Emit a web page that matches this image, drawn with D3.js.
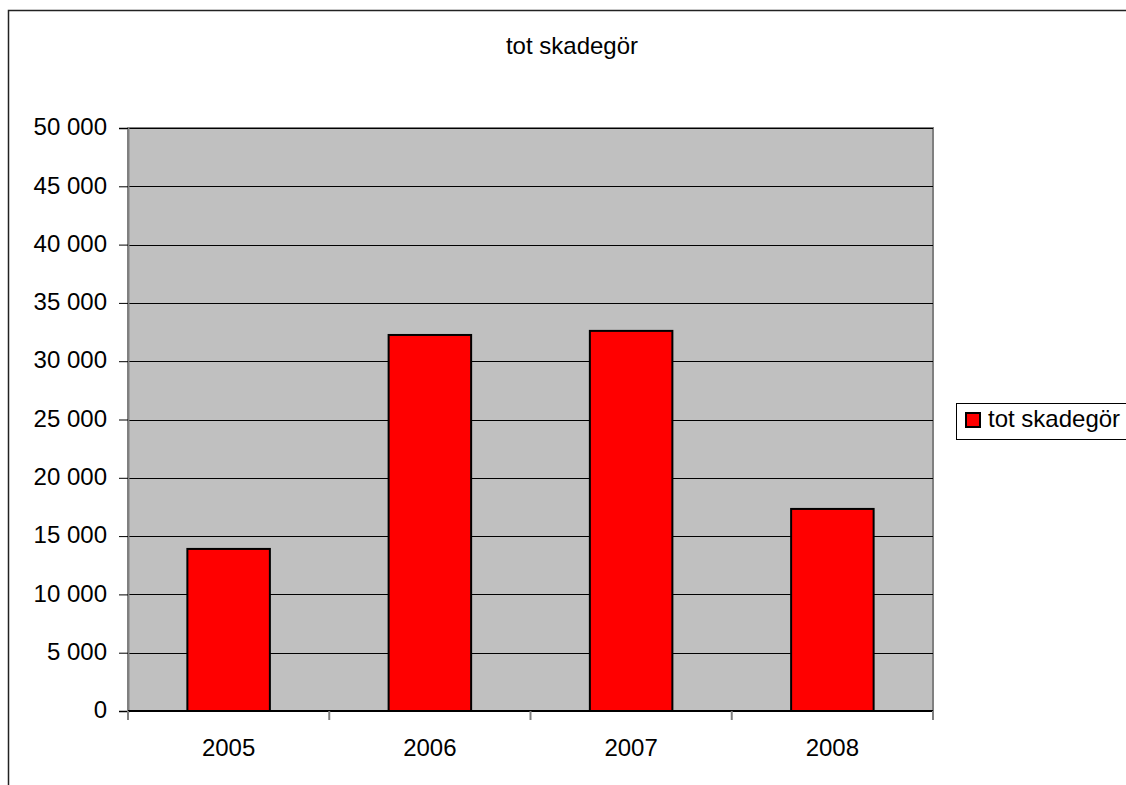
<!DOCTYPE html>
<html><head><meta charset="utf-8">
<script src="https://cdn.jsdelivr.net/npm/d3@7"></script>
<style>
html,body{margin:0;padding:0;background:#fff;}
text{font-family:"Liberation Sans",Arial,sans-serif;fill:#000;}
</style></head>
<body>
<svg id="chart" width="1126" height="785"></svg>
<script>
const categories = ["2005", "2006", "2007", "2008"];
const seriesName = "tot skadegör";
const values = [13900, 32250, 32600, 17330];
const yTicks = [0, 5000, 10000, 15000, 20000, 25000, 30000, 35000, 40000, 45000, 50000];
const chartTitle = "tot skadegör";

const svg = d3.select("#chart");
const W = 1126, H = 785;
const plot = {left: 128, right: 933, top: 128, bottom: 711};
const fontSize = 24;

const locale = d3.formatLocale({decimal: ",", thousands: " ", grouping: [3], currency: ["", ""]});
const fmt = locale.format(",d");

// outer chart border
svg.append("rect").attr("x", 8.5).attr("y", 10.5).attr("width", W + 20).attr("height", H + 20)
  .attr("fill", "#fff").attr("stroke", "#222").attr("stroke-width", 1.5);

const x = d3.scaleBand().domain(categories).range([plot.left, plot.right])
  .paddingInner(0.59).paddingOuter(0.295);
const y = d3.scaleLinear().domain([0, 50000]).range([plot.bottom, plot.top]);

// plot background
svg.append("rect").attr("x", plot.left).attr("y", plot.top)
  .attr("width", plot.right - plot.left).attr("height", plot.bottom - plot.top)
  .attr("fill", "#c0c0c0").attr("stroke", "#808080").attr("stroke-width", 2);

// gridlines
svg.append("g").selectAll("line").data(yTicks.filter(d => d > 0)).join("line")
  .attr("x1", plot.left).attr("x2", plot.right)
  .attr("y1", d => Math.round(y(d)) + 0.5).attr("y2", d => Math.round(y(d)) + 0.5)
  .attr("stroke", "#000").attr("stroke-width", 1);

// bars
svg.append("g").selectAll("rect").data(values).join("rect")
  .attr("x", (d, i) => x(categories[i]))
  .attr("y", d => y(d))
  .attr("width", x.bandwidth())
  .attr("height", d => y(0) - y(d))
  .attr("fill", "#ff0000").attr("stroke", "#000").attr("stroke-width", 2);

// y axis
const yAxis = d3.axisLeft(y).tickValues(yTicks).tickFormat(fmt).tickSize(9).tickPadding(12);
const gy = svg.append("g").attr("transform", `translate(${plot.left},0)`).call(yAxis);
gy.select(".domain").attr("stroke", "#808080").attr("stroke-width", 2);
gy.selectAll(".tick line").attr("stroke", "#000");
gy.selectAll(".tick text").attr("font-size", fontSize).attr("font-family", "Liberation Sans, Arial, sans-serif")
  .attr("fill", "#000").attr("dy", "0.28em");

// x axis (ticks at band boundaries)
const boundaries = categories.map(c => x(c) - x.step() * x.paddingInner() / 2).concat([plot.right]);
const gx = svg.append("g");
gx.append("line").attr("x1", plot.left).attr("x2", plot.right)
  .attr("y1", plot.bottom).attr("y2", plot.bottom).attr("stroke", "#000").attr("stroke-width", 2);
gx.selectAll("line.tk").data(boundaries).join("line").attr("class", "tk")
  .attr("x1", d => d).attr("x2", d => d).attr("y1", plot.bottom).attr("y2", plot.bottom + 9)
  .attr("stroke", "#808080").attr("stroke-width", 2);
gx.selectAll("text").data(categories).join("text")
  .attr("x", d => x(d) + x.bandwidth() / 2).attr("y", 756)
  .attr("text-anchor", "middle").attr("font-size", fontSize).text(d => d);

// title
svg.append("text").attr("x", 572).attr("y", 54).attr("text-anchor", "middle")
  .attr("font-size", fontSize).text(chartTitle);

// legend
const lg = svg.append("g");
lg.append("rect").attr("x", 956.5).attr("y", 403.5).attr("width", 200).attr("height", 36)
  .attr("fill", "#fff").attr("stroke", "#000").attr("stroke-width", 1);
lg.append("rect").attr("x", 966).attr("y", 413).attr("width", 14).attr("height", 14)
  .attr("fill", "#ff0000").attr("stroke", "#000").attr("stroke-width", 2);
lg.append("text").attr("x", 988).attr("y", 427).attr("font-size", fontSize).text(seriesName);
</script>
</body></html>
